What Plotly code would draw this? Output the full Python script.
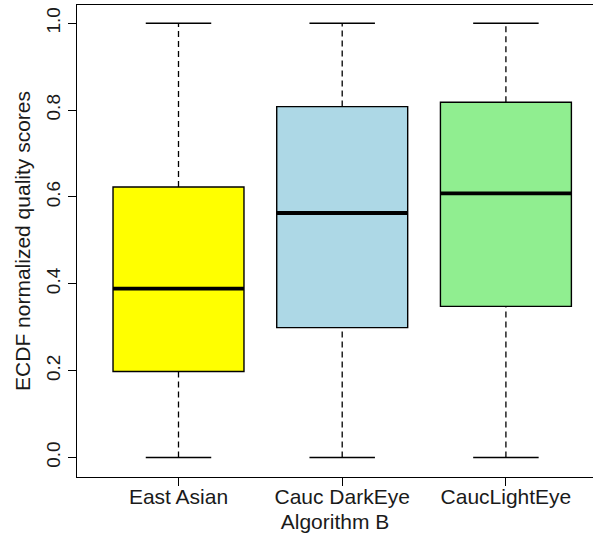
import plotly.graph_objects as go

categories = ["East Asian", "Cauc DarkEye", "CaucLightEye"]
whisker_low = [0.0, 0.0, 0.0]
q1 = [0.198, 0.299, 0.348]
median = [0.389, 0.563, 0.608]
q3 = [0.623, 0.808, 0.818]
whisker_high = [1.0, 1.0, 1.0]
fill_colors = ["#FFFF00", "#ADD8E6", "#90EE90"]
y_ticks = [0.0, 0.2, 0.4, 0.6, 0.8, 1.0]

BOX_W = 0.8
CAP_W = 0.4
FONT = "Liberation Sans, Arial, sans-serif"
TXT = "#1a1a1a"

fig = go.Figure()

for i, cat in enumerate(categories):
    x = i + 1
    # dashed whiskers
    for a, b in ((q3[i], whisker_high[i]), (whisker_low[i], q1[i])):
        fig.add_trace(go.Scatter(x=[x, x], y=[a, b], mode="lines",
                                 line=dict(color="black", width=1.3, dash="6px,4px"),
                                 showlegend=False, hoverinfo="skip"))
    # caps
    for v in (whisker_high[i], whisker_low[i]):
        fig.add_trace(go.Scatter(x=[x - CAP_W / 2, x + CAP_W / 2], y=[v, v], mode="lines",
                                 line=dict(color="black", width=1.5),
                                 showlegend=False, hoverinfo="skip"))
    # box
    fig.add_trace(go.Box(x=[x], q1=[q1[i]], median=[median[i]], q3=[q3[i]],
                         lowerfence=[q1[i]], upperfence=[q3[i]],
                         width=BOX_W, fillcolor=fill_colors[i],
                         line=dict(color="black", width=1.4),
                         boxpoints=False, showlegend=False, name=cat))
    # thick median
    fig.add_trace(go.Scatter(x=[x - BOX_W / 2, x + BOX_W / 2], y=[median[i], median[i]],
                             mode="lines", line=dict(color="black", width=3.8),
                             showlegend=False, hoverinfo="skip"))

fig.update_layout(
    width=593, height=536,
    margin=dict(l=77, r=0, t=5, b=59),
    paper_bgcolor="white", plot_bgcolor="white",
    font=dict(family=FONT, size=19, color=TXT),
    showlegend=False,
    xaxis=dict(range=[0.38, 3.532], tickmode="array", tickvals=[1, 2, 3],
               ticktext=categories, ticks="outside", ticklen=8, tickwidth=1.3,
               tickcolor="black", showline=True, mirror=True, linecolor="black",
               linewidth=1.4, showgrid=False, zeroline=False,
               tickfont=dict(size=21), ticklabelstandoff=-7,
               title=dict(text="Algorithm B", standoff=6, font=dict(size=21))),
    yaxis=dict(range=[-0.045, 1.042], tickmode="array", tickvals=y_ticks,
               ticktext=[f"{v:.1f}" for v in y_ticks], tickangle=-90,
               ticks="outside", ticklen=8, tickwidth=1.3, tickcolor="black",
               showline=True, mirror=False, linecolor="black", linewidth=1.4,
               showgrid=False, zeroline=False, tickfont=dict(size=19),
               title=dict(text="ECDF normalized quality scores", standoff=6,
                          font=dict(size=21))),
)

fig.write_html("out.html", config={"displayModeBar": False},
               post_script="document.body.style.margin='0px';")
